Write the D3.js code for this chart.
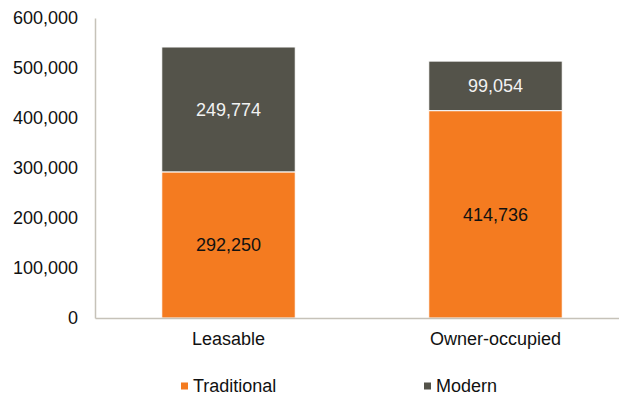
<!DOCTYPE html>
<html>
<head>
<meta charset="utf-8">
<script src="https://cdn.jsdelivr.net/npm/d3@7"></script>
<style>
  html, body { margin: 0; padding: 0; background: #fff; }
  svg { display: block; font-family: "Liberation Sans", Arial, sans-serif; }
</style>
</head>
<body>
<svg id="chart" width="619" height="396"></svg>
<script>
// Property stock by occupancy type, split by building type
const categories = ["Leasable", "Owner-occupied"];
const traditional = [292250, 414736];
const modern = [249774, 99054];
const yTicks = [0, 100000, 200000, 300000, 400000, 500000, 600000];
const seriesNames = ["Traditional", "Modern"];
const seriesColors = ["#F47B20", "#54534A"];
const labelColors = ["#111111", "#f2f2f2"];

const svg = d3.select("#chart");
const margin = { left: 95, top: 18, bottom: 78 };
const height = 396;

const x = d3.scaleBand()
  .domain(categories)
  .range([margin.left, margin.left + 534])
  .paddingInner(0.5)
  .paddingOuter(0.25);

const y = d3.scaleLinear()
  .domain([0, 600000])
  .range([height - margin.bottom, margin.top]);

const rows = categories.map((c, i) => ({ category: c, Traditional: traditional[i], Modern: modern[i] }));
const stacked = d3.stack().keys(seriesNames)(rows);

const fmt = d3.format(",");

// bars
const layers = svg.append("g")
  .selectAll("g")
  .data(stacked)
  .join("g")
  .attr("fill", (d, i) => seriesColors[i]);

layers.selectAll("rect")
  .data(d => d)
  .join("rect")
  .attr("x", d => x(d.data.category))
  .attr("width", x.bandwidth())
  .attr("y", d => y(d[1]))
  .attr("height", d => y(d[0]) - y(d[1]))
  .attr("stroke", "#fff")
  .attr("stroke-width", 1);

// value labels
stacked.forEach((layer, li) => {
  svg.append("g")
    .selectAll("text")
    .data(layer)
    .join("text")
    .attr("x", d => x(d.data.category) + x.bandwidth() / 2)
    .attr("y", d => (y(d[0]) + y(d[1])) / 2)
    .attr("dy", "0.35em")
    .attr("text-anchor", "middle")
    .attr("font-size", 18)
    .attr("fill", labelColors[li])
    .text(d => fmt(d[1] - d[0]));
});

// y axis
const yAxis = svg.append("g")
  .attr("transform", `translate(${margin.left},0)`)
  .call(d3.axisLeft(y).tickValues(yTicks).tickFormat(fmt).tickSize(0).tickPadding(17));
yAxis.select(".domain").attr("stroke", "#c6c2b9").attr("stroke-width", 1.5);
yAxis.selectAll("text").attr("font-size", 18).attr("fill", "#111").attr("font-family", "Liberation Sans, Arial, sans-serif");

// x axis
const xAxis = svg.append("g")
  .attr("transform", `translate(0,${y(0)})`)
  .call(d3.axisBottom(x).tickSize(0).tickPadding(14).tickSizeOuter(0));
xAxis.select(".domain").attr("stroke", "#c6c2b9").attr("stroke-width", 1.5);
xAxis.selectAll("text").attr("font-size", 18).attr("fill", "#111").attr("font-family", "Liberation Sans, Arial, sans-serif");

// legend
const legendX = [181, 424];
const legend = svg.append("g")
  .selectAll("g")
  .data(seriesNames)
  .join("g")
  .attr("transform", (d, i) => `translate(${legendX[i]},386)`);
legend.append("rect")
  .attr("x", 0).attr("y", -3.5)
  .attr("width", 7).attr("height", 7)
  .attr("fill", (d, i) => seriesColors[i]);
legend.append("text")
  .attr("x", 12).attr("y", 0)
  .attr("dy", "0.35em")
  .attr("font-size", 18)
  .attr("fill", "#111")
  .text(d => d);
</script>
</body>
</html>
